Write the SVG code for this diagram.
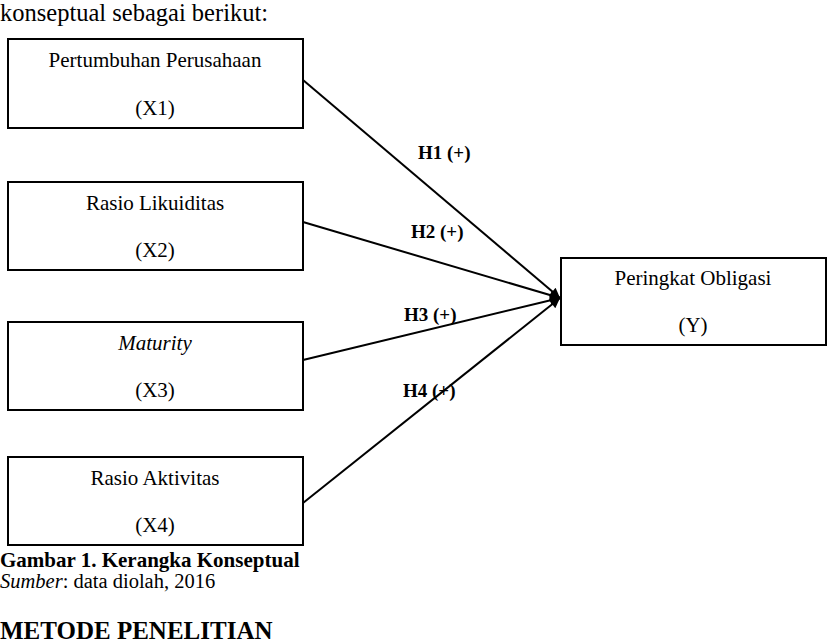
<svg xmlns="http://www.w3.org/2000/svg" width="827" height="643" viewBox="0 0 827 643">
<style>
text{font-family:"Liberation Serif","DejaVu Serif",serif;fill:#000}
.box{fill:#fff;stroke:#000;stroke-width:2}
.t{font-size:21px;text-anchor:middle}
.lbl{font-size:19px;font-weight:bold}
.con{stroke:#000;stroke-width:2;fill:none;marker-end:url(#ah)}
</style>
<defs>
<marker id="ah" viewBox="0 0 10 10" refX="10" refY="5" markerWidth="6" markerHeight="5" orient="auto" markerUnits="strokeWidth">
<path d="M0,0 L10,5 L0,10 z" fill="#000"/>
</marker>
</defs>
<rect width="827" height="643" fill="#fff"/>
<text x="0" y="21" font-size="24.5">konseptual sebagai berikut:</text>
<g id="connectors">
<line class="con" x1="303" y1="80" x2="560" y2="298"/>
<line class="con" x1="303" y1="222" x2="560" y2="298"/>
<line class="con" x1="303" y1="360" x2="560" y2="298"/>
<line class="con" x1="303" y1="503" x2="560" y2="298"/>
<text class="lbl" x="418" y="159">H1 (+)</text>
<text class="lbl" x="411" y="238">H2 (+)</text>
<text class="lbl" x="404" y="321">H3 (+)</text>
<text class="lbl" x="403" y="397">H4 (+)</text>
</g>
<g id="x1">
<rect class="box" x="8" y="39" width="295" height="89"/>
<text class="t" x="155" y="67">Pertumbuhan Perusahaan</text>
<text class="t" x="155" y="115">(X1)</text>
</g>
<g id="x2">
<rect class="box" x="8" y="182" width="295" height="88"/>
<text class="t" x="155" y="210">Rasio Likuiditas</text>
<text class="t" x="155" y="257">(X2)</text>
</g>
<g id="x3">
<rect class="box" x="8" y="322" width="295" height="88"/>
<text class="t" x="155" y="350" font-style="italic">Maturity</text>
<text class="t" x="155" y="397">(X3)</text>
</g>
<g id="x4">
<rect class="box" x="8" y="457" width="295" height="88"/>
<text class="t" x="155" y="485">Rasio Aktivitas</text>
<text class="t" x="155" y="532">(X4)</text>
</g>
<g id="y">
<rect class="box" x="561" y="258" width="265" height="87"/>
<text class="t" x="693" y="285">Peringkat Obligasi</text>
<text class="t" x="693" y="332">(Y)</text>
</g>
<text x="0" y="567" font-size="21" font-weight="bold">Gambar 1. Kerangka Konseptual</text>
<text x="0" y="588" font-size="20.5"><tspan font-style="italic">Sumber</tspan>: data diolah, 2016</text>
<text x="0" y="639" font-size="25" font-weight="bold">METODE PENELITIAN</text>
</svg>
